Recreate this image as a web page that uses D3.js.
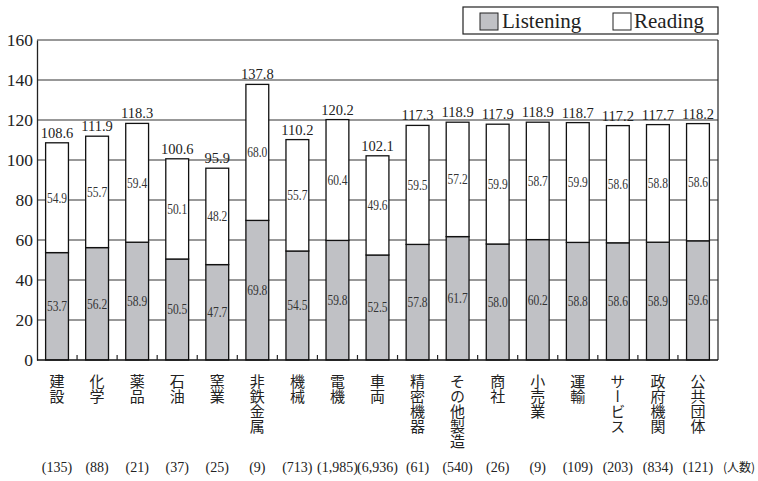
<!DOCTYPE html>
<html>
<head>
<meta charset="utf-8">
<script src="https://cdn.jsdelivr.net/npm/d3@7/dist/d3.min.js"></script>
<style>
  html, body { margin: 0; padding: 0; background: #fff; }
  svg { display: block; }
</style>
</head>
<body>
<svg id="chart" width="758" height="481"></svg>
<script>
// Industry categories
const categories = ["建設", "化学", "薬品", "石油", "窯業", "非鉄金属", "機械", "電機", "車両",
  "精密機器", "その他製造", "商社", "小売業", "運輸", "サービス", "政府機関", "公共団体"];
// Average Listening score
const listening = [53.7, 56.2, 58.9, 50.5, 47.7, 69.8, 54.5, 59.8, 52.5, 57.8, 61.7, 58.0, 60.2, 58.8, 58.6, 58.9, 59.6];
// Average Reading score
const reading = [54.9, 55.7, 59.4, 50.1, 48.2, 68.0, 55.7, 60.4, 49.6, 59.5, 57.2, 59.9, 58.7, 59.9, 58.6, 58.8, 58.6];
// Stated total
const totals = [108.6, 111.9, 118.3, 100.6, 95.9, 137.8, 110.2, 120.2, 102.1, 117.3, 118.9, 117.9, 118.9, 118.7, 117.2, 117.7, 118.2];
// Number of examinees
const counts = ["135", "88", "21", "37", "25", "9", "713", "1,985", "6,936", "61", "540", "26", "9", "109", "203", "834", "121"];
const yTicks = [0, 20, 40, 60, 80, 100, 120, 140, 160];
const seriesNames = ["Listening", "Reading"];

const svg = d3.select("#chart");
const serif = "Liberation Serif";
const cjk = "Noto Sans CJK JP";
const gray = "#c0c1c5";

const plotL = 37, plotR = 718, plotT = 40, plotB = 360;

const x = d3.scaleBand().domain(categories).range([plotL, plotR]).paddingInner(0.43).paddingOuter(0.215);
const y = d3.scaleLinear().domain([0, 160]).range([plotB, plotT]);

// Horizontal grid
svg.append("g").selectAll("line").data(yTicks.filter(d => d > 0)).join("line")
  .attr("x1", plotL).attr("x2", plotR)
  .attr("y1", d => y(d)).attr("y2", d => y(d))
  .attr("stroke", "#333").attr("stroke-width", 1.2);

// Right frame
svg.append("line").attr("x1", plotR).attr("x2", plotR).attr("y1", plotT).attr("y2", plotB)
  .attr("stroke", "#222").attr("stroke-width", 1.2);

// Y axis
const yAxis = d3.axisLeft(y).tickValues(yTicks).tickSize(0).tickPadding(4);
const gy = svg.append("g").attr("transform", `translate(${plotL},0)`).call(yAxis);
gy.attr("font-family", null).attr("font-size", null);
gy.select(".domain").attr("stroke", "#222").attr("stroke-width", 1.3);
gy.selectAll("text").style("font-family", serif).style("font-size", "17.5px").attr("fill", "#222");

// Stacked bars
const stackData = categories.map((c, i) => ({ cat: c, listening: listening[i], reading: reading[i] }));
const stacked = d3.stack().keys(["listening", "reading"])(stackData);
const fills = [gray, "#fff"];

stacked.forEach((layer, k) => {
  svg.append("g").selectAll("rect").data(layer).join("rect")
    .attr("x", d => x(d.data.cat))
    .attr("width", x.bandwidth())
    .attr("y", d => y(d[1]))
    .attr("height", d => y(d[0]) - y(d[1]))
    .attr("fill", fills[k])
    .attr("stroke", "#111").attr("stroke-width", 1.3);
});

// Segment value labels (slightly condensed)
const segVals = [listening, reading];
stacked.forEach((layer, k) => {
  svg.append("g").selectAll("text").data(layer).join("text")
    .attr("x", d => x(d.data.cat) + x.bandwidth() / 2)
    .attr("y", d => (y(d[0]) + y(d[1])) / 2)
    .attr("dy", "0.35em")
    .attr("text-anchor", "middle")
    .style("font-family", serif).style("font-size", "14px")
    .attr("fill", "#333")
    .attr("transform", d => {
      const cx = x(d.data.cat) + x.bandwidth() / 2;
      return `translate(${cx},0) scale(0.82,1) translate(${-cx},0)`;
    })
    .text((d, i) => segVals[k][i].toFixed(1));
});

// Total labels
svg.append("g").selectAll("text").data(categories).join("text")
  .attr("x", d => x(d) + x.bandwidth() / 2)
  .attr("y", (d, i) => y(listening[i] + reading[i]) - 5)
  .attr("text-anchor", "middle")
  .style("font-family", serif).style("font-size", "14.5px")
  .attr("fill", "#222")
  .text((d, i) => totals[i].toFixed(1));

// X axis baseline with inner ticks at band boundaries
svg.append("line").attr("x1", plotL).attr("x2", plotR).attr("y1", plotB).attr("y2", plotB)
  .attr("stroke", "#111").attr("stroke-width", 1.6);
svg.append("g").selectAll("line").data(categories.slice(1)).join("line")
  .attr("x1", d => x(d) - x.step() * x.paddingInner() / 2)
  .attr("x2", d => x(d) - x.step() * x.paddingInner() / 2)
  .attr("y1", plotB).attr("y2", plotB - 5)
  .attr("stroke", "#222").attr("stroke-width", 1.2);

// Category names, set vertically
svg.append("g").selectAll("text").data(categories).join("text")
  .attr("x", d => x(d) + x.bandwidth() / 2)
  .attr("y", 374)
  .style("font-family", cjk).style("font-size", "15px")
  .attr("fill", "#222")
  .style("writing-mode", "vertical-rl")
  .style("text-orientation", "upright")
  .text(d => d);

// Examinee counts
svg.append("g").selectAll("text").data(categories).join("text")
  .attr("x", d => x(d) + x.bandwidth() / 2)
  .attr("y", 472)
  .attr("text-anchor", "middle")
  .style("font-family", serif).style("font-size", "14px")
  .attr("fill", "#222")
  .text((d, i) => `(${counts[i]})`);
svg.append("text").attr("x", 739).attr("y", 472).attr("text-anchor", "middle")
  .style("font-family", cjk).style("font-size", "12px").attr("fill", "#222")
  .text("(人数)");

// Legend
const lg = svg.append("g");
lg.append("rect").attr("x", 463).attr("y", 7).attr("width", 255).attr("height", 27)
  .attr("fill", "#fff").attr("stroke", "#222").attr("stroke-width", 1.2);
const legendItems = [{ name: seriesNames[0], fill: gray, sx: 480, tx: 502 }, { name: seriesNames[1], fill: "#fff", sx: 613, tx: 634 }];
legendItems.forEach(it => {
  lg.append("rect").attr("x", it.sx).attr("y", 13).attr("width", 18).attr("height", 17)
    .attr("fill", it.fill).attr("stroke", "#222").attr("stroke-width", 1);
  lg.append("text").attr("x", it.tx).attr("y", 28)
    .style("font-family", serif).style("font-size", "21px").attr("fill", "#222")
    .text(it.name);
});
</script>
</body>
</html>
